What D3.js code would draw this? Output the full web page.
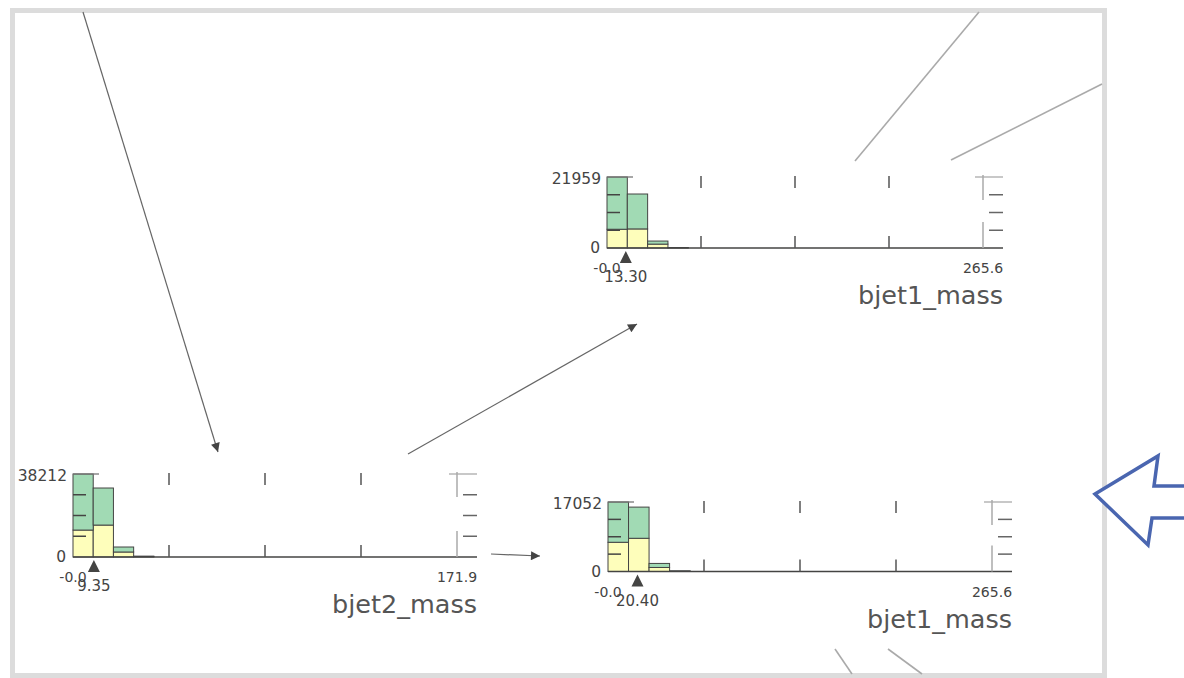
<!DOCTYPE html>
<html>
<head>
<meta charset="utf-8">
<script src="https://cdn.jsdelivr.net/npm/d3@7"></script>
<style>
  body { margin: 0; background: #fff; }
  svg { display: block; font-family: "DejaVu Sans", sans-serif; }
</style>
</head>
<body>
<div id="tree"></div>
<script>
const width = 1184;
const height = 678;

// node data (top, bottom-left, bottom-right)
const features = ['bjet1_mass', 'bjet2_mass', 'bjet1_mass'];
const xMax = [265.6, 171.9, 265.6];
const xMinLabels = ['-0.0', '-0.0', '-0.0'];
const xMaxLabels = ['265.6', '171.9', '265.6'];
const yMax = [21959, 38212, 17052];
const splits = [13.30, 9.35, 20.40];
const splitLabels = ['13.30', '9.35', '20.40'];
const binWidths = [14.35, 9.05, 14.2];
// stacked histogram counts per bin: class 0 (yellow) and class 1 (green)
const class0 = [
  [5800, 5900, 1200, 90],
  [12400, 14700, 2300, 220],
  [7170, 8150, 990, 90]
];
const class1 = [
  [16159, 10800, 950, 60],
  [25812, 17060, 2300, 180],
  [9882, 7650, 990, 60]
];

const colors = ['#FEFEBB', '#a1dab4'];
const ink = '#444443';

// where each node sits on the page
const layout = [
  {x0: 607, base: 248, w: 376, h: 71},
  {x0: 73, base: 557, w: 384, h: 83},
  {x0: 608, base: 571.5, w: 384, h: 69.5}
];

const svg = d3.select('#tree')
  .append('svg')
    .attr('width', width)
    .attr('height', height);

const defs = svg.append('defs');
defs.append('marker')
    .attr('id', 'head')
    .attr('viewBox', '0 0 10 10')
    .attr('refX', 10)
    .attr('refY', 5)
    .attr('markerWidth', 12)
    .attr('markerHeight', 9)
    .attr('markerUnits', 'userSpaceOnUse')
    .attr('orient', 'auto')
  .append('path')
    .attr('d', 'M0,0L10,5L0,10Z')
    .attr('fill', '#444');

// frame
svg.append('rect')
  .attr('x', 12.5)
  .attr('y', 10.5)
  .attr('width', 1092)
  .attr('height', 665)
  .attr('fill', 'none')
  .attr('stroke', '#dcdcdc')
  .attr('stroke-width', 5);

// tree edges
const edges = [
  {p: [83, 12, 218, 452], arrow: true, c: '#666'},
  {p: [408, 454, 637, 324], arrow: true, c: '#666'},
  {p: [491, 554, 540, 556], arrow: true, c: '#666'},
  {p: [979, 12, 855, 161], arrow: false, c: '#aaa'},
  {p: [1102, 84, 951, 160], arrow: false, c: '#aaa'},
  {p: [835, 649, 852, 674], arrow: false, c: '#aaa'},
  {p: [888, 649, 922, 674], arrow: false, c: '#aaa'}
];
svg.selectAll('line.edge')
  .data(edges)
  .join('line')
    .attr('class', 'edge')
    .attr('x1', d => d.p[0]).attr('y1', d => d.p[1])
    .attr('x2', d => d.p[2]).attr('y2', d => d.p[3])
    .attr('stroke', d => d.c)
    .attr('stroke-width', d => d.arrow ? 1.2 : 1.6)
    .attr('marker-end', d => d.arrow ? 'url(#head)' : null);

features.forEach((feat, n) => {
  const L = layout[n];
  const x = d3.scaleLinear().domain([0, xMax[n]]).range([L.x0, L.x0 + L.w]);
  const y = d3.scaleLinear().domain([0, yMax[n]]).range([L.base, L.base - L.h]);
  const g = svg.append('g');

  const bins = class0[n].map((c0, i) => ({
    lo: i * binWidths[n], hi: (i + 1) * binWidths[n], c0: c0, c1: class1[n][i]
  }));

  // bars
  const bg = g.append('g').attr('stroke', ink).attr('stroke-width', 1);
  bg.selectAll('rect.c0')
    .data(bins)
    .join('rect')
      .attr('x', d => x(d.lo))
      .attr('width', d => x(d.hi) - x(d.lo))
      .attr('y', d => y(d.c0))
      .attr('height', d => y(0) - y(d.c0))
      .attr('fill', colors[0]);
  bg.selectAll('rect.c1')
    .data(bins)
    .join('rect')
      .attr('x', d => x(d.lo))
      .attr('width', d => x(d.hi) - x(d.lo))
      .attr('y', d => y(d.c0 + d.c1))
      .attr('height', d => y(d.c0) - y(d.c0 + d.c1))
      .attr('fill', colors[1]);

  const quarters = [1, 2, 3].map(i => i / 4);
  const xr = x(xMax[n]);
  const yt = y(yMax[n]);

  // baseline
  g.append('line')
    .attr('x1', L.x0).attr('x2', xr + 20)
    .attr('y1', L.base).attr('y2', L.base)
    .attr('stroke', ink).attr('stroke-width', 1.6);

  // x ticks at top and bottom of plot
  quarters.forEach(q => {
    const tx = x(xMax[n] * q);
    g.append('line').attr('x1', tx).attr('x2', tx)
      .attr('y1', yt - 1).attr('y2', yt + 11)
      .attr('stroke', '#555').attr('stroke-width', 1.5);
    g.append('line').attr('x1', tx).attr('x2', tx)
      .attr('y1', L.base - 12).attr('y2', L.base)
      .attr('stroke', '#555').attr('stroke-width', 1.5);
  });
  // the tick at the max value
  g.append('line').attr('x1', xr).attr('x2', xr)
    .attr('y1', yt - 2).attr('y2', yt + 23)
    .attr('stroke', '#aaa').attr('stroke-width', 1.5);
  g.append('line').attr('x1', xr).attr('x2', xr)
    .attr('y1', L.base - 26).attr('y2', L.base)
    .attr('stroke', '#aaa').attr('stroke-width', 1.5);

  // y ticks on both sides
  quarters.forEach(q => {
    const ty = y(yMax[n] * q);
    g.append('line').attr('x1', L.x0).attr('x2', L.x0 + 13)
      .attr('y1', ty).attr('y2', ty)
      .attr('stroke', ink).attr('stroke-width', 1.5);
    g.append('line').attr('x1', xr + 6).attr('x2', xr + 20)
      .attr('y1', ty).attr('y2', ty)
      .attr('stroke', '#666').attr('stroke-width', 1.5);
  });
  g.append('line').attr('x1', L.x0).attr('x2', L.x0 + 26)
    .attr('y1', yt).attr('y2', yt)
    .attr('stroke', '#777').attr('stroke-width', 1.3);
  g.append('line').attr('x1', xr - 8).attr('x2', xr + 20)
    .attr('y1', yt).attr('y2', yt)
    .attr('stroke', '#aaa').attr('stroke-width', 1.3);

  // y labels
  const small = 14;
  g.append('text')
    .attr('x', L.x0 - 6).attr('y', yt + 2)
    .attr('text-anchor', 'end').attr('dominant-baseline', 'central')
    .attr('font-size', 15.5).attr('fill', ink)
    .text(yMax[n]);
  g.append('text')
    .attr('x', L.x0 - 7).attr('y', L.base)
    .attr('text-anchor', 'end').attr('dominant-baseline', 'central')
    .attr('font-size', 15.5).attr('fill', ink)
    .text('0');

  // x labels
  g.append('text')
    .attr('x', x(0)).attr('y', L.base + 20)
    .attr('text-anchor', 'middle').attr('dominant-baseline', 'central')
    .attr('font-size', small).attr('fill', ink)
    .text(xMinLabels[n]);
  g.append('text')
    .attr('x', xr).attr('y', L.base + 20)
    .attr('text-anchor', 'middle').attr('dominant-baseline', 'central')
    .attr('font-size', small).attr('fill', ink)
    .text(xMaxLabels[n]);

  // split marker
  const sx = x(splits[n]);
  g.append('path')
    .attr('d', `M${sx},${L.base + 3}L${sx + 6},${L.base + 15}L${sx - 6},${L.base + 15}Z`)
    .attr('fill', ink);
  g.append('text')
    .attr('x', sx).attr('y', L.base + 29)
    .attr('text-anchor', 'middle').attr('dominant-baseline', 'central')
    .attr('font-size', 15).attr('fill', ink)
    .text(splitLabels[n]);

  // feature name
  g.append('text')
    .attr('x', xr + 20).attr('y', L.base + 56)
    .attr('text-anchor', 'end')
    .attr('font-size', 25.5).attr('fill', '#555')
    .text(feat);
});

// blue callout arrow
svg.append('path')
  .attr('d', 'M1095,494L1158,456L1154,486L1195,486L1195,518L1152,518L1148,545Z')
  .attr('fill', '#fff')
  .attr('stroke', '#4a66b0')
  .attr('stroke-width', 3.5)
  .attr('stroke-linejoin', 'miter');
</script>
</body>
</html>
